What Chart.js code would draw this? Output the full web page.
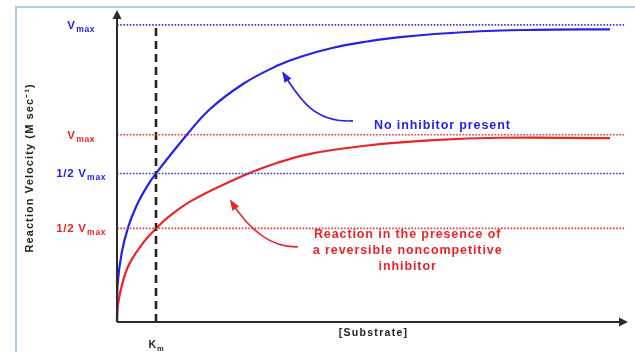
<!DOCTYPE html>
<html><head><meta charset="utf-8">
<script src="https://cdn.jsdelivr.net/npm/chart.js@4/dist/chart.umd.min.js"></script>
<style>html,body{margin:0;padding:0;background:#fff}#wrap{width:635px;height:352px;position:relative}</style>
</head><body><div id="wrap"><canvas id="c" width="635" height="352"></canvas></div>
<script>
// ---- data (substrate in units of Km, velocity in % of uninhibited Vmax) ----
const blueSubstrate = [0, 0.01, 0.12, 0.29, 0.51, 0.76, 1.0, 1.79, 2.38, 3.23, 4.10, 4.69, 5.54, 6.41, 7.26, 8.97, 10.67, 12.64];
const blueVelocity  = [0, 11.9, 23.2, 32.1, 39.4, 45.4, 50, 63, 71.6, 80.1, 86.2, 89.2, 92.3, 94.4, 95.9, 97.6, 98.3, 98.5];
const redSubstrate  = [0, 0.03, 0.16, 0.33, 0.68, 1.0, 1.32, 1.95, 3.23, 4.10, 4.95, 6.41, 8.10, 9.82, 12.64];
const redVelocity   = [0, 6.4, 14.1, 19.9, 26.8, 31.4, 35.4, 41.1, 49.2, 53.5, 56.6, 59.4, 61.2, 62.0, 61.9];
const levelValues   = [100, 63, 50, 31.5];
const levelMain     = ['V', 'V', '1/2 V', '1/2 V'];
const levelSub      = ['max', 'max', 'max', 'max'];
const levelSeries   = ['blue', 'red', 'blue', 'red'];
const kmValue = 1;
const substrateEnd = 13;
const blueLabel = 'No inhibitor present';
const redLabel = ['Reaction in the presence of', 'a reversible noncompetitive', 'inhibitor'];
const xTitle = '[Substrate]';
const yTitle = 'Reaction Velocity (M sec\u207B\u00B9)';

const COL = { blue: '#2323e6', red: '#e82424', blueDot: '#3b3bdc', redDot: '#e03a3a', axis: '#2a2a2a' };
const font = s => `bold ${s}px "Liberation Sans", Arial, sans-serif`;

const pts = (xs, ys) => xs.map((x, i) => ({ x, y: ys[i] }));

const datasets = [];
levelValues.forEach((v, i) => {
  datasets.push({ data: [{ x: 0, y: v }, { x: substrateEnd, y: v }],
    borderColor: levelSeries[i] === 'blue' ? COL.blueDot : COL.redDot,
    borderWidth: 1.6, borderDash: [1.6, 1.6], pointRadius: 0, showLine: true, clip: false });
});
datasets.push({ data: [{ x: kmValue, y: 0 }, { x: kmValue, y: levelValues[0] }],
  borderColor: '#222', borderWidth: 2.6, borderDash: [8, 5], pointRadius: 0, showLine: true, clip: false });
datasets.push({ data: pts(redSubstrate, redVelocity), borderColor: COL.red, borderWidth: 2.2,
  pointRadius: 0, showLine: true, tension: 0.4, clip: false });
datasets.push({ data: pts(blueSubstrate, blueVelocity), borderColor: COL.blue, borderWidth: 2.2,
  pointRadius: 0, showLine: true, tension: 0.4, clip: false });

function subText(ctx, main, sub, cx, baseY, size, subSize, color, sp) {
  ctx.letterSpacing = sp + 'px';
  ctx.font = font(size); const w1 = ctx.measureText(main).width;
  ctx.font = font(subSize); const w2 = ctx.measureText(sub).width;
  const x = cx - (w1 + w2) / 2;
  ctx.fillStyle = color; ctx.textAlign = 'left'; ctx.textBaseline = 'alphabetic';
  ctx.font = font(size); ctx.fillText(main, x, baseY);
  ctx.font = font(subSize); ctx.fillText(sub, x + w1 + 0.5, baseY + 3);
  ctx.letterSpacing = '0px';
}

function spacedText(ctx, text, cx, cy, size, sp) {
  ctx.font = font(size); ctx.letterSpacing = sp + 'px';
  ctx.textAlign = 'left'; ctx.textBaseline = 'middle';
  const w = ctx.measureText(text).width - sp;
  ctx.fillText(text, cx - w / 2, cy);
  ctx.letterSpacing = '0px';
}

function curvedArrow(ctx, p, color) {
  ctx.save();
  ctx.strokeStyle = color; ctx.fillStyle = color; ctx.lineWidth = 1.6;
  ctx.beginPath(); ctx.moveTo(p[0].x, p[0].y);
  ctx.bezierCurveTo(p[1].x, p[1].y, p[2].x, p[2].y, p[3].x, p[3].y);
  ctx.stroke();
  const ang = Math.atan2(p[3].y - p[2].y, p[3].x - p[2].x);
  const L = 9, W = 4;
  ctx.beginPath();
  ctx.moveTo(p[3].x + Math.cos(ang) * 2, p[3].y + Math.sin(ang) * 2);
  ctx.lineTo(p[3].x - Math.cos(ang) * L + Math.sin(ang) * W, p[3].y - Math.sin(ang) * L - Math.cos(ang) * W);
  ctx.lineTo(p[3].x - Math.cos(ang) * L - Math.sin(ang) * W, p[3].y - Math.sin(ang) * L + Math.cos(ang) * W);
  ctx.closePath(); ctx.fill();
  ctx.restore();
}

const decor = {
  id: 'decor',
  beforeDraw(chart) {
    const ctx = chart.ctx;
    ctx.save();
    ctx.fillStyle = '#fff'; ctx.fillRect(0, 0, chart.width, chart.height);
    ctx.strokeStyle = '#a9d0e6'; ctx.lineWidth = 2;
    ctx.beginPath(); ctx.moveTo(16, chart.height); ctx.lineTo(16, 7); ctx.lineTo(chart.width, 7); ctx.stroke();
    ctx.restore();
  },
  afterDatasetsDraw(chart) {
    const ctx = chart.ctx, xs = chart.scales.x, ys = chart.scales.y, a = chart.chartArea;
    const X = v => xs.getPixelForValue(v), Y = v => ys.getPixelForValue(v);
    ctx.save();
    // axes
    ctx.strokeStyle = COL.axis; ctx.fillStyle = COL.axis; ctx.lineWidth = 2;
    ctx.beginPath(); ctx.moveTo(a.left, a.bottom); ctx.lineTo(a.left, a.top + 6); ctx.stroke();
    ctx.beginPath(); ctx.moveTo(a.left, a.bottom); ctx.lineTo(a.right - 6, a.bottom); ctx.stroke();
    ctx.beginPath(); ctx.moveTo(a.left, a.top); ctx.lineTo(a.left - 4.5, a.top + 9); ctx.lineTo(a.left + 4.5, a.top + 9); ctx.closePath(); ctx.fill();
    ctx.beginPath(); ctx.moveTo(a.right, a.bottom); ctx.lineTo(a.right - 9, a.bottom - 4.5); ctx.lineTo(a.right - 9, a.bottom + 4.5); ctx.closePath(); ctx.fill();
    // y level labels
    levelValues.forEach((v, i) => {
      subText(ctx, levelMain[i], levelSub[i], a.left - 36, Y(v) + 4, 11.5, 8.5,
        levelSeries[i] === 'blue' ? COL.blue : COL.red, 0.7);
    });
    // Km label
    subText(ctx, 'K', 'm', X(kmValue), a.bottom + 26, 10.5, 7.5, '#222', 0.5);
    // x title
    ctx.fillStyle = '#222';
    spacedText(ctx, xTitle, X(6.56), a.bottom + 11, 10.5, 1.3);
    // y title
    ctx.save(); ctx.translate(30, Y(50) - 5); ctx.rotate(-Math.PI / 2);
    spacedText(ctx, yTitle, 0, 0, 11, 1.1); ctx.restore();
    // annotations
    ctx.fillStyle = COL.blue;
    spacedText(ctx, blueLabel, X(8.33), Y(66), 12.5, 0.9);
    ctx.fillStyle = COL.red;
    redLabel.forEach((t, i) => spacedText(ctx, t, X(7.44), Y(29.3) + i * 16, 12.5, 0.9));
    curvedArrow(ctx, [{ x: X(6.05), y: Y(67.7) }, { x: X(5.08), y: Y(67.0) }, { x: X(4.69), y: Y(74.7) }, { x: X(4.26), y: Y(83.8) }], COL.blue);
    curvedArrow(ctx, [{ x: X(4.64), y: Y(25.3) }, { x: X(3.92), y: Y(24.9) }, { x: X(3.36), y: Y(31.6) }, { x: X(2.92), y: Y(40.7) }], COL.red);
    ctx.restore();
  }
};

new Chart(document.getElementById('c'), {
  type: 'scatter',
  data: { datasets },
  options: {
    responsive: false, animation: false, events: [],
    layout: { padding: { left: 117, right: 7, top: 10, bottom: 30 } },
    scales: {
      x: { type: 'linear', display: false, min: 0, max: 13.1 },
      y: { type: 'linear', display: false, min: 0, max: 105 }
    },
    plugins: { legend: { display: false }, tooltip: { enabled: false } }
  },
  plugins: [decor]
});
</script></body></html>
